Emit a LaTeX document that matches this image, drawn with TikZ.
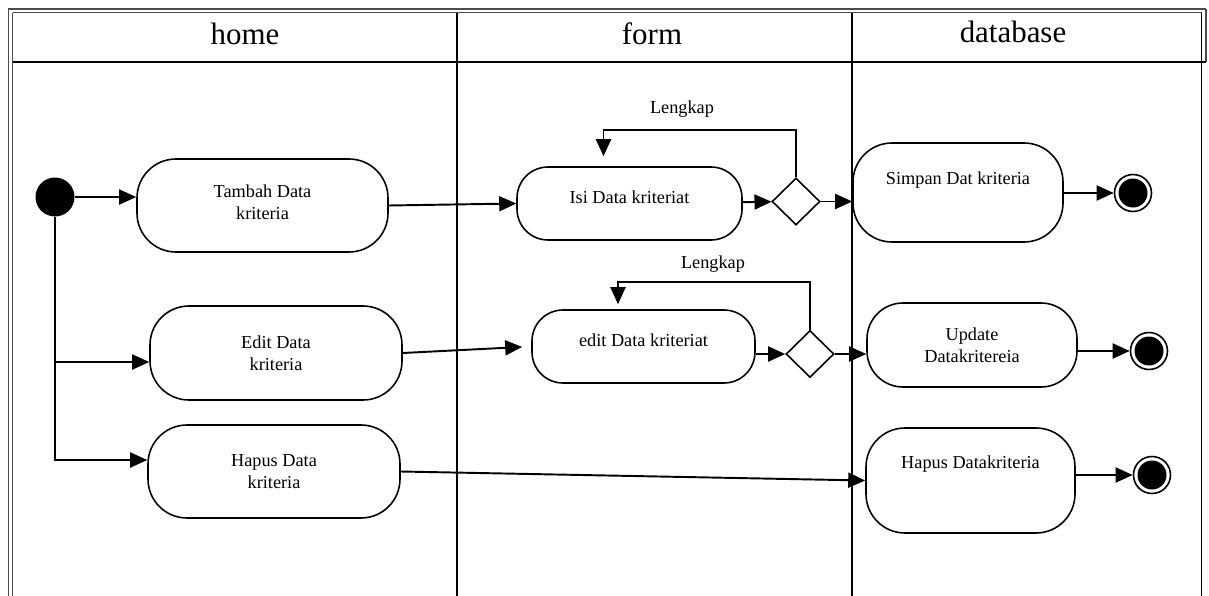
\documentclass[tikz,border=0pt]{standalone}
\usepackage{fontspec}
\setmainfont{Liberation Serif}
\usetikzlibrary{shapes.geometric, arrows.meta, positioning, calc}

\begin{document}
\begin{tikzpicture}[
  act/.style={draw, line width=0.9pt, rectangle, rounded corners=#1, align=center, font=\fontsize{10.4}{12.6}\selectfont, inner sep=2pt},
  act/.default=0.78cm,
  dec/.style={draw, line width=0.9pt, diamond, minimum width=0.96cm, minimum height=0.94cm, inner sep=0pt},
  startdot/.style={circle, fill=black, minimum size=0.78cm, inner sep=0pt},
  enddot/.style={circle, draw, line width=0.9pt, minimum size=0.74cm, inner sep=0pt, path picture={\fill (path picture bounding box.center) circle (0.29cm);}},
  flow/.style={line width=1.1pt, -{Triangle[length=0.34cm, width=0.3cm]}},
  frame/.style={line width=0.6pt, black!70},
  lanetitle/.style={font=\fontsize{17.6}{20}\selectfont},
  guard/.style={font=\fontsize{10.4}{12.6}\selectfont}
]
  \useasboundingbox (0,0) rectangle (24.18,-11.92);

  % swimlanes
  \draw[frame] (0.17,-0.18) -- (24.12,-0.18);
  \draw[frame] (0.25,-0.25) -- (24.03,-0.25);
  \draw[frame] (0.17,-0.18) -- (0.17,-11.92);
  \draw[frame] (0.25,-0.25) -- (0.25,-11.92);
  \draw[frame] (24.12,-0.18) -- (24.12,-1.24);
  \draw[line width=0.6pt] (24.03,-0.25) -- (24.03,-11.92);
  \draw[line width=0.6pt] (0.25,-1.24) -- (24.12,-1.24);
  \draw[line width=0.6pt] (9.14,-0.25) -- (9.14,-11.92);
  \draw[line width=0.6pt] (17.04,-0.25) -- (17.04,-11.92);

  \node[lanetitle] (tHome) at (4.90,-0.68) {home};
  \node[lanetitle] (tForm) at (13.04,-0.68) {form};
  \node[lanetitle] (tDb) at (20.26,-0.64) {database};

  % home
  \node[startdot] (start) at (1.10,-3.94) {};
  \node[act, minimum width=5.02cm, minimum height=1.86cm, text depth=0.12cm] (tambah) at (5.25,-4.11) {Tambah Data\\kriteria};
  \node[act, minimum width=5.04cm, minimum height=1.88cm] (editA) at (5.52,-7.06) {Edit Data\\kriteria};
  \node[act, minimum width=5.04cm, minimum height=1.86cm] (hapusA) at (5.48,-9.43) {Hapus Data\\kriteria};

  % form
  \node[act=0.62cm, minimum width=4.50cm, minimum height=1.46cm, text height=0.25cm, text depth=0.25cm] (isi) at (12.59,-4.07) {Isi Data kriteriat};
  \node[dec] (dec1) at (15.92,-4.03) {};
  \node[act=0.62cm, minimum width=4.46cm, minimum height=1.46cm, text height=0.25cm, text depth=0.25cm] (editF) at (12.87,-6.93) {edit Data kriteriat};
  \node[dec] (dec2) at (16.20,-7.08) {};
  \node[guard] (lk1) at (13.64,-2.18) {Lengkap};
  \node[guard] (lk2) at (14.26,-5.28) {Lengkap};

  % database
  \node[act, minimum width=4.20cm, minimum height=1.98cm, text height=0.25cm, text depth=0.59cm] (simpan) at (19.16,-3.85) {Simpan Dat kriteria};
  \node[act=0.72cm, minimum width=4.20cm, minimum height=1.68cm] (update) at (19.44,-6.90) {Update\\Datakritereia};
  \node[act, minimum width=4.18cm, minimum height=2.10cm, text height=0.25cm, text depth=0.75cm] (hapusD) at (19.41,-9.61) {Hapus Datakriteria};
  \node[enddot] (end1) at (22.66,-3.86) {};
  \node[enddot] (end2) at (22.98,-7.02) {};
  \node[enddot] (end3) at (23.04,-9.50) {};

  \draw[flow] (start) -- (start -| tambah.west);
  \draw[flow] (start.south) |- ([yshift=-0.18cm]editA.west);
  \draw[flow] (start.south) |- ([yshift=0.23cm]hapusA.west);

  \draw[flow] (tambah.east) -- (isi.west);
  \draw[flow] (isi) -- (dec1);
  \draw[flow] (dec1) -- (dec1 -| simpan.west);
  \draw[flow, shorten >=0.2cm] (dec1.north) -- ++(0,0.94) -| ([xshift=-0.52cm]isi.north);
  \draw[flow] (simpan.east |- end1) -- (end1);

  \draw[flow, shorten >=0.18cm] (editA.east) -- (editF.west);
  \draw[flow] (editF.east |- dec2) -- (dec2);
  \draw[flow] (dec2) -- (dec2 -| update.west);
  \draw[flow, shorten >=0.1cm] (dec2.north) -- ++(0,0.96) -| ([xshift=-0.51cm]editF.north);
  \draw[flow] (update.east |- end2) -- (end2);

  \draw[flow] (hapusA.east) -- (hapusD.west);
  \draw[flow] (hapusD.east |- end3) -- (end3);
\end{tikzpicture}
\end{document}
